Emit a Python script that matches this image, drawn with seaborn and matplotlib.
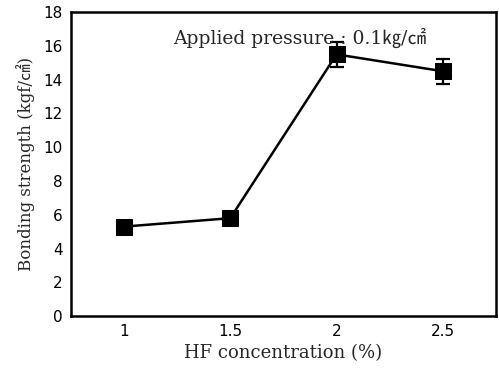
import matplotlib
matplotlib.use("Agg")
import matplotlib.pyplot as plt
import seaborn as sns
import pandas as pd

hf_conc = [1.0, 1.5, 2.0, 2.5]
strength = [5.3, 5.8, 15.5, 14.5]
err = [0.15, 0.15, 0.75, 0.75]
x_ticks = [1, 1.5, 2, 2.5]
x_ticklabels = ["1", "1.5", "2", "2.5"]
y_ticks = list(range(0, 19, 2))

sns.set_theme(style="white")
plt.rcParams['font.family'] = ['DejaVu Sans', 'Noto Sans CJK KR']

df = pd.DataFrame({"x": hf_conc, "y": strength})
fig = plt.figure(figsize=(4.99, 3.68), dpi=100)
ax = fig.add_axes([0.142, 0.141, 0.852, 0.826])

ax.errorbar(hf_conc, strength, yerr=err, fmt='none', ecolor='black',
            elinewidth=1.6, capsize=5, capthick=1.6, zorder=2)
sns.lineplot(data=df, x="x", y="y", ax=ax, color="black", linewidth=1.8,
             marker="s", markersize=11, markeredgecolor="black",
             markerfacecolor="black", zorder=3)

ax.set_xlim(0.75, 2.75)
ax.set_ylim(0, 18)
ax.set_xticks(x_ticks)
ax.set_xticklabels(x_ticklabels)
ax.set_yticks(y_ticks)
ax.tick_params(axis='both', labelsize=11, direction='in', length=3,
               width=1, colors='black', pad=6)
for s in ax.spines.values():
    s.set_color('black')
    s.set_linewidth(1.8)

serif = ['DejaVu Serif', 'Noto Sans CJK KR']
ax.set_xlabel("HF concentration (%)", fontsize=13, family=serif, labelpad=3)
ax.set_ylabel("Bonding strength (kgf/㎠)", fontsize=12, family=serif, labelpad=6)
ax.text(1.23, 16.45, "Applied pressure : 0.1㎏/㎠", fontsize=13.5,
        family=serif, ha='left', va='center')

fig.savefig("out.png", dpi=100)
